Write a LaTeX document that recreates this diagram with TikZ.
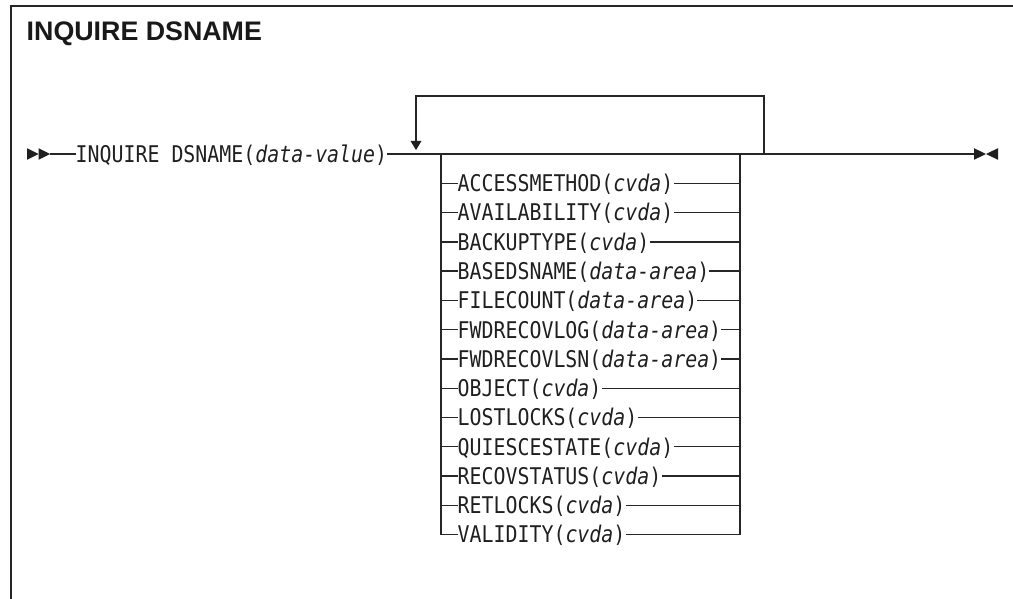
\documentclass[tikz,border=0pt]{standalone}
\usepackage{fontspec}
\setmainfont{Liberation Sans}
\newfontfamily\synmono[FakeStretch=0.865]{DejaVu Sans Mono}
\usetikzlibrary{arrows.meta}
\tikzset{
  rr/.style={line width=1.3pt, draw=black!85},
  frame/.style={line width=2pt, draw=black!85},
  synt/.style={anchor=base west, inner sep=0pt, text=black!88,
    font=\synmono\fontsize{23}{23}\selectfont},
  ttl/.style={anchor=base west, inner sep=0pt, text=black!90,
    font=\bfseries\fontsize{26.8}{30}\selectfont},
  tip/.style={fill=black!88}
}
\begin{document}
\begin{tikzpicture}[x=1pt,y=-1pt]
\useasboundingbox (0,0) rectangle (1013,599);
% frame
\draw[frame] (11,599) -- (11,5.7) -- (1013,5.7);
\node[ttl] (title) at (26.5,40.5) {INQUIRE DSNAME};
% start arrows
\fill[tip] (27,148.2) -- (38.5,154) -- (27,159.8) -- cycle;
\fill[tip] (38.5,148.2) -- (50,154) -- (38.5,159.8) -- cycle;
\coordinate (start) at (50,154);
\node[synt] (main) at (75.5,162.3) {INQUIRE DSNAME(\textit{data-value})};
\draw[rr] (start) -- (start -| main.west);
% junctions
\coordinate (loopL) at (416,154);
\coordinate (chL) at (441,154);
\coordinate (chR) at (740,154);
\coordinate (loopR) at (764,154);
\coordinate (endp) at (974,154);
\draw[rr] (start -| main.east) -- (endp);
% loop
\draw[rr] (loopR) -- (764,96) -- (416,96) -- (416,142);
\fill[tip] (410.5,141) -- (421.5,141) -- (416,150) -- cycle;
% end arrows
\fill[tip] (974,148.2) -- (986,154) -- (974,159.8) -- cycle;
\fill[tip] (998,148.2) -- (986,154) -- (998,159.8) -- cycle;
% choices
\foreach \nm/\ar [count=\i from 0] in {ACCESSMETHOD/cvda, AVAILABILITY/cvda, BACKUPTYPE/cvda, BASEDSNAME/data-area, FILECOUNT/data-area, FWDRECOVLOG/data-area, FWDRECOVLSN/data-area, OBJECT/cvda, LOSTLOCKS/cvda, QUIESCESTATE/cvda, RECOVSTATUS/cvda, RETLOCKS/cvda, VALIDITY/cvda}{
  \pgfmathsetmacro\yy{183.3+29.28*\i}
  \coordinate (L\i) at (441,\yy);
  \coordinate (R\i) at (740,\yy);
  \node[synt] (it\i) at (457.5,\yy+8.3) {\nm(\textit{\ar})};
  \draw[rr] (L\i) -- (L\i -| it\i.west);
  \draw[rr] (R\i -| it\i.east) -- (R\i);
}
\draw[rr] (chL) -- (L12);
\draw[rr] (chR) -- (R12);
\end{tikzpicture}
\end{document}
